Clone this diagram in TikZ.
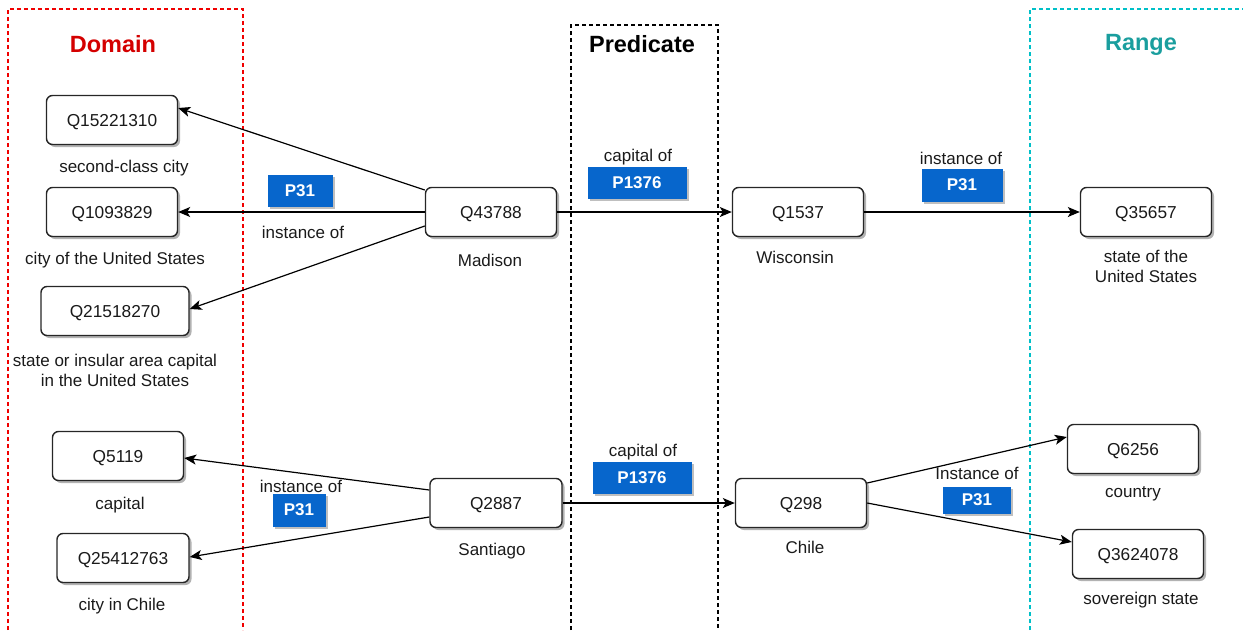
\documentclass[tikz,border=0pt]{standalone}
\usepackage{fontspec}
\setmainfont{Liberation Sans}
\usetikzlibrary{arrows.meta,shadows}
\definecolor{domred}{HTML}{D40000}
\definecolor{dashred}{HTML}{F00000}
\definecolor{rangeteal}{HTML}{1A9E9E}
\definecolor{dashcyan}{HTML}{00C0C8}
\definecolor{propblue}{HTML}{0766CC}
\definecolor{txt}{HTML}{1A1A1A}
\newcommand{\lblfont}{\fontsize{17}{20}\selectfont}
\newcommand{\entfont}{\fontsize{17.3}{20}\selectfont}
\newcommand{\titlefont}{\fontsize{23.5}{27}\selectfont\bfseries}
\begin{document}
\begin{tikzpicture}[x=1pt,y=-1pt,
  ent/.style={draw=black!85, line width=1.4pt, rounded corners=6pt, fill=white,
    minimum width=131pt, minimum height=49pt, inner sep=0pt, font=\entfont, text=txt,
    text depth=-1.5pt,
    drop shadow={shadow xshift=2.5pt, shadow yshift=-2.5pt, opacity=0.3, fill=black}},
  prop/.style={fill=propblue, text=white, font=\lblfont\bfseries, minimum height=32pt, inner sep=0pt,
    drop shadow={shadow xshift=2pt, shadow yshift=-2pt, opacity=0.25, fill=black}},
  lbl/.style={font=\lblfont, text=txt, align=center, inner sep=0pt},
  rel/.style={-{Stealth[length=12pt,width=10pt,inset=3pt]}, line width=1.2pt, black},
  zone/.style={dash pattern=on 4pt off 3pt, line width=1.1pt}]
\useasboundingbox (0,0) rectangle (1243,630);

% zone frames
\draw[zone, dashred] (8,630) -- (8,9) -- (243,9) -- (243,630);
\draw[zone, black] (571,630) -- (571,25) -- (718,25) -- (718,630);
\draw[zone, dashcyan] (1030,630) -- (1030,9) -- (1243,9);

\node[font=\titlefont, text=domred] (tdom) at (113,44) {Domain};
\node[font=\titlefont, text=black] (tpred) at (642,44) {Predicate};
\node[font=\titlefont, text=rangeteal] (trange) at (1141,45) {Range};

% Madison block
\node[ent] (a1) at (112,120) {Q15221310};
\node[ent] (a2) at (112,212) {Q1093829};
\node[ent, minimum width=148pt] (a3) at (115,311) {Q21518270};
\node[ent] (m1) at (491,212) {Q43788};
\node[ent] (w) at (798,212) {Q1537};
\node[ent] (r1) at (1146,212) {Q35657};

\node[lbl] (la1) at (124,168) {second-class city};
\node[lbl] (la2) at (115,260) {city of the United States};
\node[lbl] (la3) at (115,370) {state or insular area capital\\in the United States};
\node[lbl] (lm1) at (490,260) {Madison};
\node[lbl] (lw) at (795,257) {Wisconsin};
\node[lbl] (lr1) at (1146,266) {state of the\\United States};

\draw[rel] ([yshift=22pt]m1.west) -- ([yshift=12pt]a1.east);
\draw[rel] (m1.west) -- (a2.east);
\draw[rel] ([yshift=-14pt]m1.west) -- ([yshift=2pt]a3.east);
\draw[rel] (m1.east) -- (w.west);
\draw[rel] (w.east) -- (r1.west);

\node[prop, minimum width=65pt] (p1) at (300,191) {P31};
\node[lbl] (i1) at (303,232) {instance of};
\node[lbl] (c1) at (638,157) {capital of};
\node[prop, minimum width=99pt] (p2) at (637,183) {P1376};
\node[lbl] (i2) at (961,158) {instance of};
\node[prop, minimum width=81pt, minimum height=33pt] (p3) at (962,185) {P31};

% Santiago block
\node[ent] (b1) at (118,456) {Q5119};
\node[ent, minimum width=132pt] (b2) at (123,558) {Q25412763};
\node[ent, minimum width=132pt] (m2) at (496,503) {Q2887};
\node[ent] (c) at (801,503) {Q298};
\node[ent] (r2) at (1133,449) {Q6256};
\node[ent] (r3) at (1138,554) {Q3624078};

\node[lbl] (lb1) at (120,505) {capital};
\node[lbl] (lb2) at (122,606) {city in Chile};
\node[lbl] (lm2) at (492,551) {Santiago};
\node[lbl] (lc) at (805,547) {Chile};
\node[lbl] (lr2) at (1133,494) {country};
\node[lbl] (lr3) at (1141,600) {sovereign state};

\draw[rel] ([yshift=13pt]m2.west) -- ([yshift=-2pt]b1.east);
\draw[rel] ([yshift=-14pt]m2.west) -- ([yshift=1pt]b2.east);
\draw[rel] (m2.east) -- (c.west);
\draw[rel] ([yshift=20pt]c.east) -- ([yshift=12pt]r2.west);
\draw[rel] (c.east) -- ([yshift=12pt]r3.west);

\node[lbl] (i3) at (301,486) {instance of};
\node[prop, minimum width=53pt, minimum height=33pt] (p4) at (299,510) {P31};
\node[lbl] (c2) at (643,452) {capital of};
\node[prop, minimum width=99pt] (p5) at (642,478) {P1376};
\node[lbl] (i4) at (977,473) {Instance of};
\node[prop, minimum width=68pt, minimum height=27pt] (p6) at (977,500) {P31};
\end{tikzpicture}
\end{document}
